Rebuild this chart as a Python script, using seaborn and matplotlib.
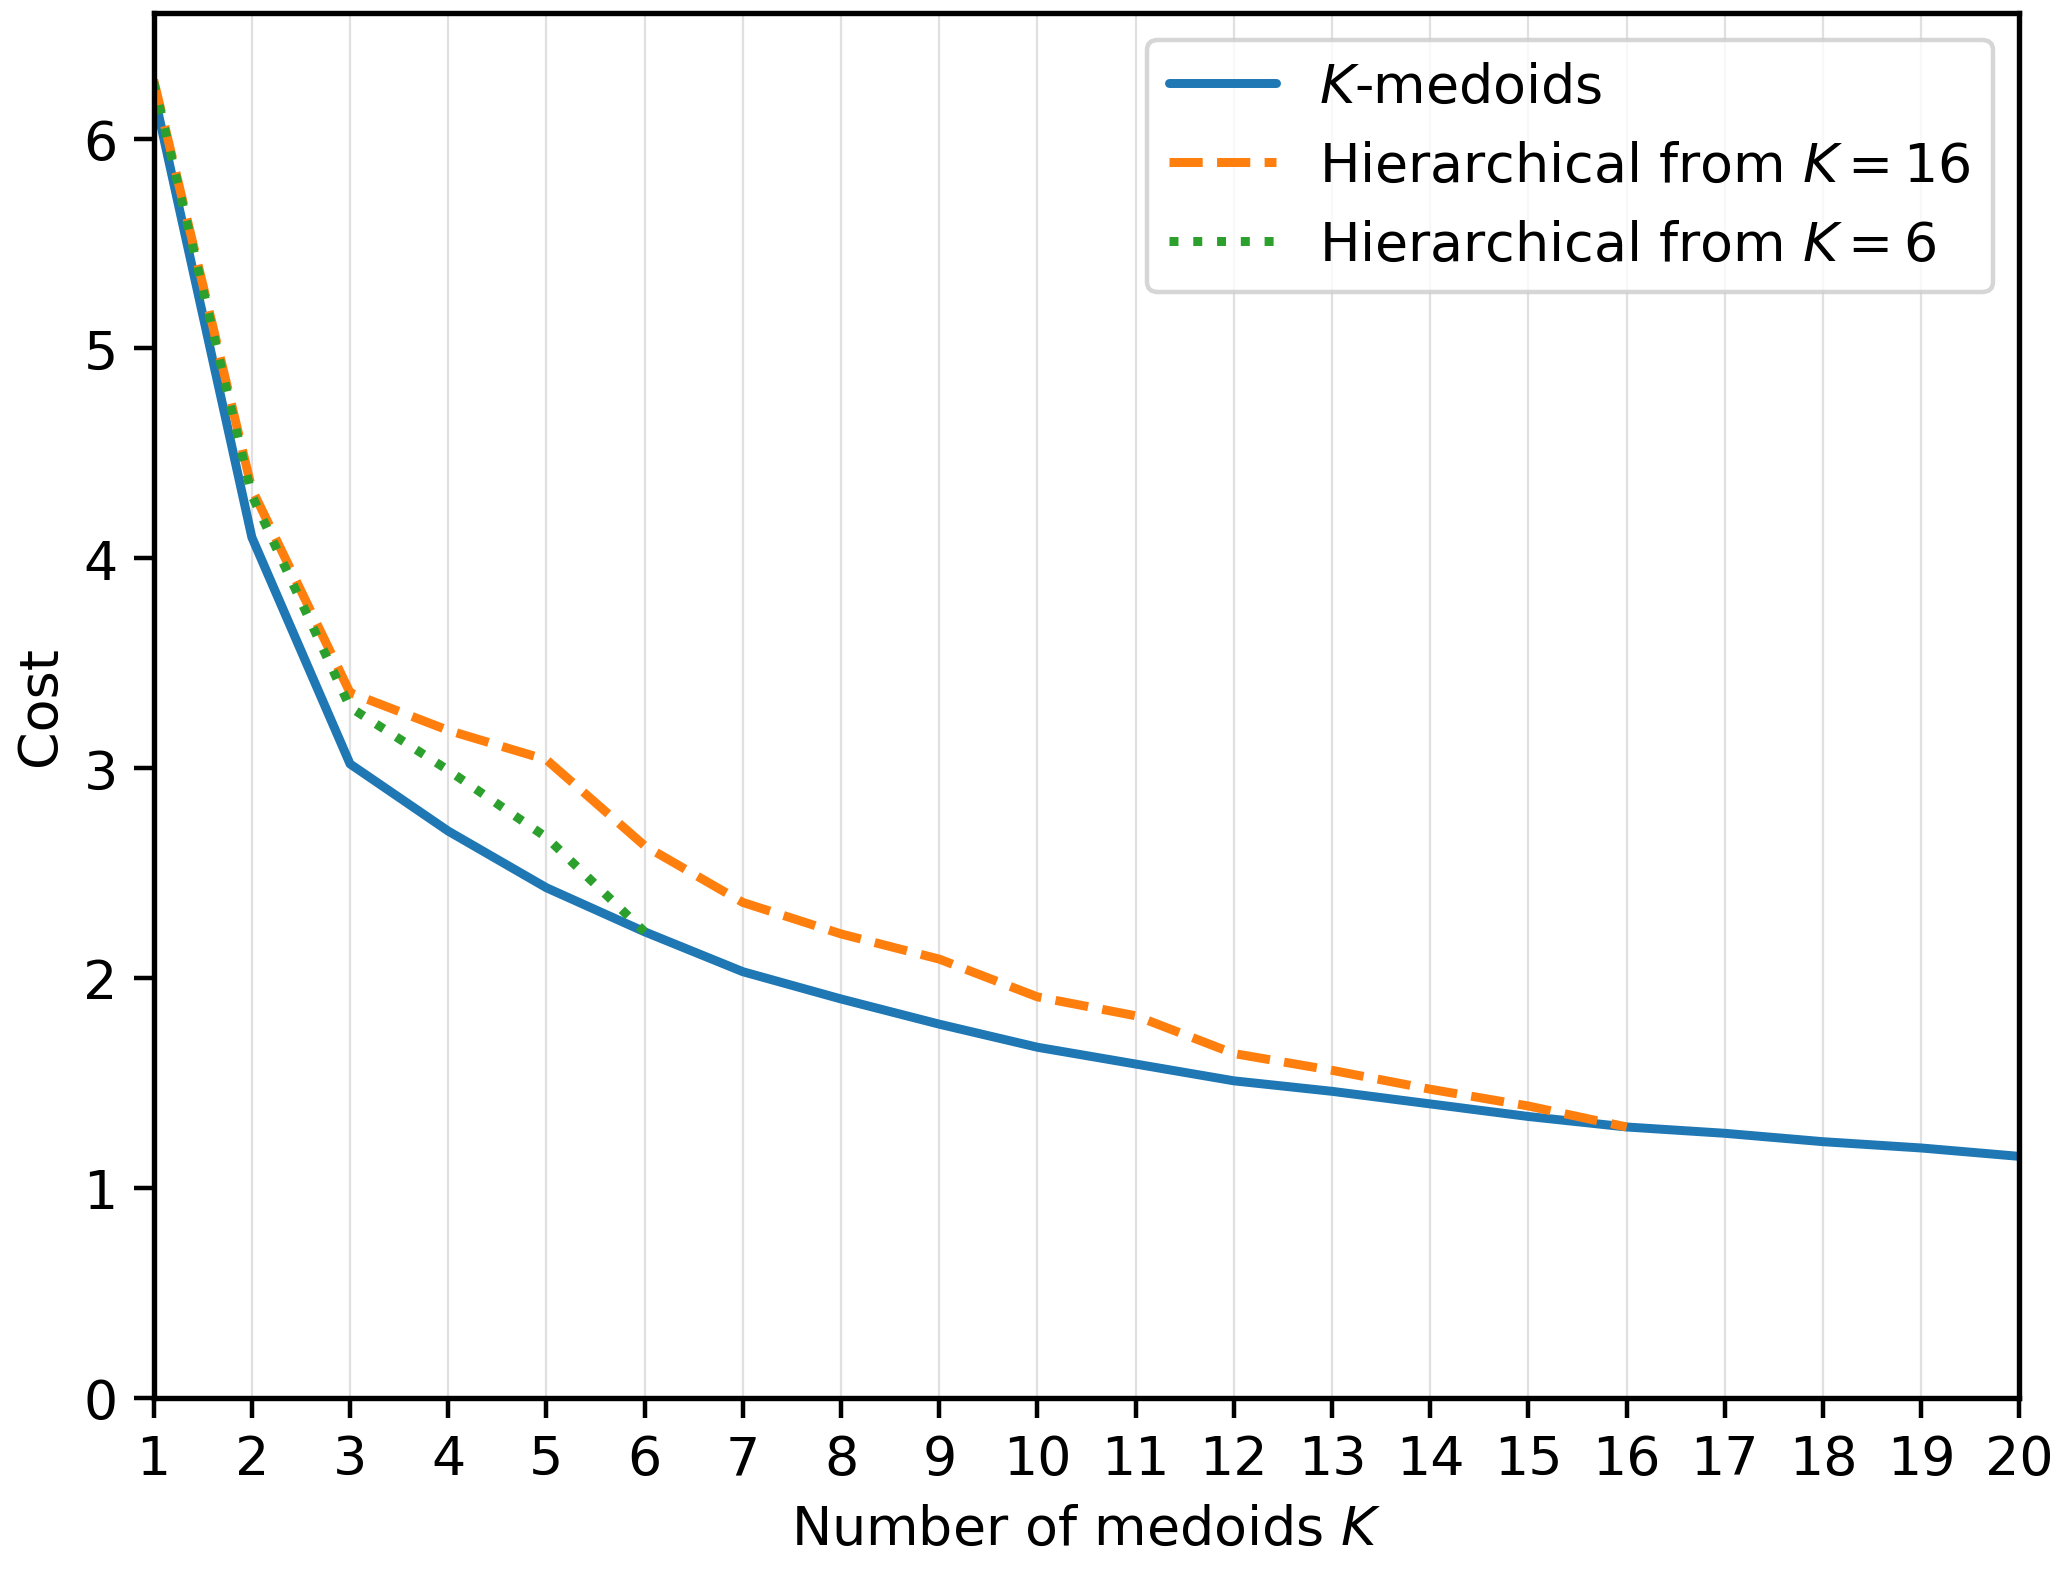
import numpy as np
import matplotlib
matplotlib.use("Agg")
import matplotlib.pyplot as plt
import seaborn as sns

# values
k_all = list(range(1, 21))
cost_kmedoids = [6.22, 4.10, 3.02, 2.70, 2.43, 2.22, 2.03, 1.90, 1.78, 1.67,
                 1.59, 1.51, 1.46, 1.40, 1.34, 1.29, 1.26, 1.22, 1.19, 1.15]

k_h16 = list(range(1, 17))
cost_h16 = [6.28, 4.33, 3.36, 3.18, 3.04, 2.63, 2.36, 2.21, 2.09, 1.91,
            1.82, 1.64, 1.56, 1.47, 1.39, 1.29]

k_h6 = list(range(1, 7))
cost_h6 = [6.27, 4.30, 3.29, 2.99, 2.67, 2.22]

sns.set_style("ticks")
plt.rcParams['font.family'] = ['DejaVu Sans']
plt.rcParams['text.color'] = 'black'
plt.rcParams['axes.labelcolor'] = 'black'
plt.rcParams['xtick.color'] = 'black'
plt.rcParams['ytick.color'] = 'black'

fig, ax = plt.subplots(figsize=(6.4, 4.86), dpi=323)

pal = sns.color_palette("tab10")
sns.lineplot(x=k_all, y=cost_kmedoids, ax=ax, color=pal[0], linewidth=2.0,
             label=r"$K$-medoids")
sns.lineplot(x=k_h16, y=cost_h16, ax=ax, color=pal[1], linewidth=2.0,
             linestyle="--", label=r"Hierarchical from $K=16$")
sns.lineplot(x=k_h6, y=cost_h6, ax=ax, color=pal[2], linewidth=2.0,
             linestyle=":", label=r"Hierarchical from $K=6$")

ax.set_xlim(1, 20)
ax.set_ylim(0, 6.6)
ax.set_xticks(k_all)
ax.set_xlabel(r"Number of medoids $K$", fontsize=12)
ax.set_ylabel("Cost", fontsize=12)
ax.tick_params(labelsize=12, color="black", width=1.0, length=4.5)
ax.grid(axis="x", color="#e0e0e0", linewidth=0.5)
ax.set_axisbelow(True)
for s in ax.spines.values():
    s.set_color("black")
    s.set_linewidth(1.2)

leg = ax.legend(loc="upper right", fontsize=12, fancybox=True, framealpha=0.8)
leg.get_frame().set_edgecolor("#cccccc")

fig.tight_layout(pad=0.3)
fig.savefig("out.png", dpi=323)
